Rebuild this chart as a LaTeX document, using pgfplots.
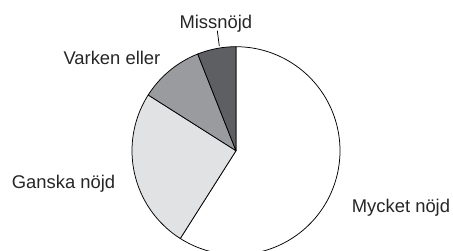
\documentclass[border=0pt]{standalone}
\usepackage{pgfplots}
\pgfplotsset{compat=1.18}
\usepackage{fontspec}
\setmainfont{Liberation Sans}
\definecolor{cA}{HTML}{FFFFFF}
\definecolor{cB}{HTML}{E1E2E4}
\definecolor{cC}{HTML}{9A9B9E}
\definecolor{cD}{HTML}{5E5F63}
% shares (percent)
\def\vA{59}% Mycket nöjd
\def\vB{25}% Ganska nöjd
\def\vC{10}% Varken eller
\def\vD{6}%  Missnöjd
\begin{document}
\begin{tikzpicture}
\pgfmathsetmacro\aA{90}
\pgfmathsetmacro\aB{\aA-\vA*3.6}
\pgfmathsetmacro\aC{\aB-\vB*3.6}
\pgfmathsetmacro\aD{\aC-\vC*3.6}
\pgfmathsetmacro\aE{\aD-\vD*3.6}
\begin{axis}[
  scale only axis, x=1bp, y=1bp,
  xmin=0, xmax=453, ymin=0, ymax=250,
  hide axis, clip=true,
  every axis plot/.append style={draw=black, line width=0.75pt, line join=round},
]
\addplot[fill=cA, domain=\aB:\aA, samples=120, variable=\t] ({236+104*cos(t)},{99.3+104*sin(t)}) -- (axis cs:236,99.3) -- cycle;
\addplot[fill=cB, domain=\aC:\aB, samples=60, variable=\t] ({236+104*cos(t)},{99.3+104*sin(t)}) -- (axis cs:236,99.3) -- cycle;
\addplot[fill=cC, domain=\aD:\aC, samples=30, variable=\t] ({236+104*cos(t)},{99.3+104*sin(t)}) -- (axis cs:236,99.3) -- cycle;
\addplot[fill=cD, domain=\aE:\aD, samples=20, variable=\t] ({236+104*cos(t)},{99.3+104*sin(t)}) -- (axis cs:236,99.3) -- cycle;
\draw[black, line width=0.75pt] (axis cs:217.3,219.3) -- (axis cs:219.3,204);
\begin{scope}[every node/.style={inner sep=0pt, anchor=base west, font=\fontsize{18.4bp}{22bp}\selectfont, text=black!85}]
\node at (axis cs:351.7,37.3) {Mycket nöjd};
\node at (axis cs:11.7,61.8) {Ganska nöjd};
\node at (axis cs:63.3,185.1) {Varken eller};
\node at (axis cs:179.3,221.8) {Missnöjd};
\end{scope}
\path (axis cs:0,0) (axis cs:453,250);
\end{axis}
\end{tikzpicture}
\end{document}
